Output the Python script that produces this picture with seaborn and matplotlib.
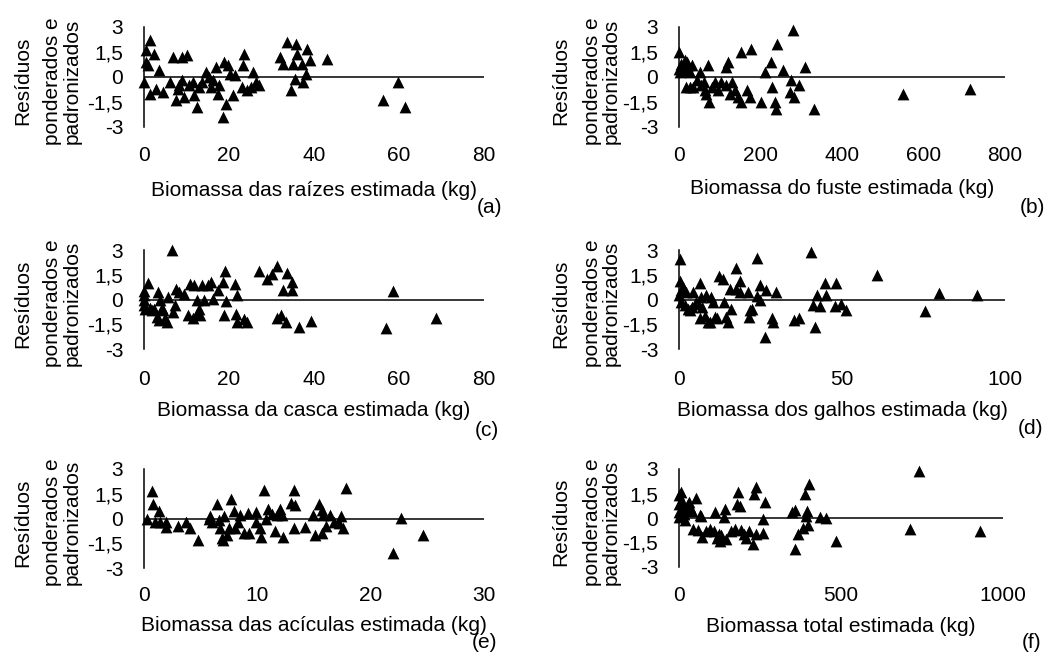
import matplotlib

matplotlib.use("Agg")
import matplotlib.pyplot as plt
import seaborn as sns

Y_TICKS = [-3, -1.5, 0, 1.5, 3]
Y_TICK_LABELS = ["-3", "-1,5", "0", "1,5", "3"]
Y_LABEL_LINES = ["Resíduos", "ponderados e", "padronizados"]

# (a) raízes
raizes_x = [0, 0.4, 0.4, 0.9, 1.3, 1.4, 2.4, 2.8, 3.6, 4.4, 6.1, 6.9, 7.5, 7.9, 8.2,
            8.9, 8.9, 9.3, 10.0, 10.7, 11.5, 11.8, 12.4, 13.0, 13.6, 14.5, 15.4, 15.8,
            16.3, 16.9, 17.3, 17.7, 18.5, 18.8, 19.3, 19.7, 20.2, 21.0, 21.4, 23.1,
            23.4, 23.6, 24.2, 25.1, 25.7, 26.4, 27.1, 32.0, 32.6, 33.7, 34.5, 35.1,
            35.8, 35.9, 35.5, 37.1, 37.5, 38.1, 38.4, 39.1, 43.0, 56.3, 59.8, 61.4]
raizes_y = [-0.3, 1.6, 0.9, 0.7, 2.2, -1.0, 1.4, -0.7, 0.4, -0.9, -0.3, 1.2, -1.4, -0.7,
            -0.5, 1.2, -0.2, -1.2, 1.3, -0.5, -0.3, -1.1, -1.8, -0.6, -0.3, 0.3, 0.0,
            -0.6, -0.2, 0.6, -1.0, -0.5, -2.4, 0.9, -1.6, 0.7, 0.2, -1.1, 0.1, -0.6,
            0.7, 1.4, -0.8, -0.6, 0.3, -0.3, -0.5, 1.2, 0.8, 2.1, -0.8, 0.8, 2.0, 1.4,
            -0.1, 0.8, -0.3, 0.2, 1.7, 1.0, 1.1, -1.4, -0.3, -1.8]

# (b) fuste
fuste_x = [0, 0, 2, 6, 10, 14, 18, 20, 22, 26, 16, 26, 33, 34, 43, 51, 55, 61, 63, 67,
           71, 74, 80, 88, 96, 104, 115, 116, 120, 125, 129, 137, 145, 153, 153, 166,
           174, 176, 202, 211, 225, 227, 235, 239, 241, 256, 272, 276, 279, 282, 295,
           309, 331, 549, 713]
fuste_y = [1.5, 0.5, 0.3, 0.8, 0.6, 1.0, 0.4, 0.9, 0.7, 0.3, -0.6, -0.6, 0.7, -0.6,
           -0.2, 0.3, -0.5, -0.3, -0.8, -1.0, 0.7, -1.5, -0.6, -0.3, -0.8, -0.3, -0.5,
           0.6, 0.9, -1.0, -0.3, -0.8, -1.2, -1.5, 1.5, -0.8, -1.2, 1.7, -1.5, 0.3, 0.9,
           -0.6, -1.5, -1.9, 2.0, 0.4, -0.9, -0.2, 2.8, -1.2, -0.5, 0.6, -1.9, -1.0, -0.7]

# (c) casca
casca_x = [0, 0, 0.1, 0, 0.2, 0.9, 1.3, 1.8, 2.4, 3.0, 3.4, 3.6, 3.8, 4.2, 4.5, 4.9,
           5.3, 5.7, 6.5, 6.9, 7.3, 7.5, 8.3, 9.3, 10.4, 10.8, 11.5, 11.8, 12.4, 12.5,
           13.0, 13.2, 13.6, 14.1, 15.1, 15.7, 16.2, 17.5, 18.5, 18.8, 19.1, 19.4, 21.4,
           21.6, 21.8, 21.8, 23.6, 24.2, 27.0, 29.0, 30.2, 31.4, 31.4, 32.2, 32.6, 33.4,
           33.7, 34.9, 34.9, 36.5, 39.3, 57.0, 58.7, 68.7]
casca_y = [0.25, 0.5, -0.05, -0.35, -0.55, 1.0, -0.5, -0.65, -0.6, -1.05, 0.45, -1.25,
           -0.05, -0.5, -0.65, -1.15, -1.35, 0.15, 3.0, -0.75, -0.35, 0.65, 0.45, 0.35,
           -0.95, 0.95, -1.15, 0.85, -0.85, -0.05, -0.55, -0.95, 0.85, -0.05, 0.85, 1.05,
           0.05, 0.55, 1.05, -0.95, 1.75, -0.1, 0.95, -0.85, 0.25, -1.35, -1.2, -1.35,
           1.75, 1.25, 1.55, 2.05, -1.15, -0.95, 0.55, -1.35, 1.6, 1.05, 0.55, -1.65,
           -1.3, -1.75, 0.5, -1.15]

# (d) galhos
galhos_x = [0.2, 0.2, 0, 0.5, 0.7, 1.2, 1.7, 2.3, 2.8, 3.5, 4.1, 4.3, 5.3, 5.8, 6.3,
            6.3, 6.9, 7.2, 7.9, 8.2, 8.9, 9.4, 9.9, 10.4, 11.0, 11.7, 12.3, 13.5, 13.7,
            14.5, 15.0, 15.6, 16.1, 17.6, 17.6, 18.6, 18.8, 21.2, 21.5, 21.9, 22.5, 24.0,
            24.0, 24.8, 24.8, 26.3, 26.8, 28.4, 28.7, 29.7, 35.2, 36.9, 40.4, 41.1, 41.7,
            42.2, 43.2, 44.7, 45.2, 47.8, 48.3, 49.8, 51.2, 60.6, 75.4, 79.8, 91.3]
galhos_y = [2.45, 1.1, 0.25, 0.55, -0.15, 0.75, -0.35, 0.45, -0.6, -0.65, -0.45, 0.45,
            -0.15, -0.25, 1.0, -1.15, 0.15, -0.45, -1.0, 0.25, -1.35, -1.35, 0.15, -0.15,
            -1.05, -1.15, 1.4, 1.25, -0.15, -1.05, -1.35, 0.65, -0.55, 1.9, 0.65, 1.1,
            0.45, 0.45, -1.05, -0.65, -0.6, 2.5, 0.2, 0.9, -0.05, -2.3, 0.55, -1.15,
            -1.35, 0.45, -1.25, -1.15, 2.9, -0.35, -1.65, 0.25, -0.4, 1.0, 0.25, -0.4,
            1.0, -0.25, -0.65, 1.5, -0.7, 0.4, 0.25]

# (e) acículas
aciculas_x = [0.3, 0.7, 0.8, 1.0, 1.3, 1.4, 1.9, 1.9, 3.0, 3.7, 4.1, 4.8, 5.7, 5.8, 6.0,
              6.4, 6.6, 6.7, 6.9, 7.0, 7.1, 7.3, 7.5, 7.7, 7.9, 8.0, 8.3, 8.5, 8.8, 9.2,
              9.3, 9.9, 9.9, 10.2, 10.3, 10.6, 10.8, 10.9, 11.3, 11.6, 11.7, 12.0, 12.2,
              12.3, 13.0, 13.2, 13.2, 13.3, 14.2, 14.9, 15.1, 15.4, 15.7, 15.7, 15.8,
              16.1, 16.4, 16.8, 17.2, 17.4, 17.6, 17.8, 22.0, 22.7, 24.6]
aciculas_y = [-0.05, 1.65, 0.9, -0.2, 0.45, -0.2, -0.2, -0.5, -0.45, -0.2, -0.6, -1.3,
              -0.05, 0.15, -0.2, 0.9, -0.1, -0.6, -1.2, -1.3, 0.15, -1.0, -0.6, 1.2, 0.45,
              -0.55, -0.2, 0.2, -0.9, 0.35, -0.9, 0.4, -0.2, -0.55, -1.15, 1.75, 0.0, 0.6,
              0.3, -0.75, 0.2, 0.6, 0.2, -1.15, 0.95, -0.6, 1.75, 0.8, -0.5, 0.2, -1.0,
              0.9, 0.5, -0.9, 0.2, -0.45, 0.2, -0.2, -0.25, 0.15, -0.6, 1.85, -2.1, 0.05,
              -1.0]

# (f) total
total_x = [0, 0, 0, 0, 7, 10, 12, 14, 18, 23, 28, 31, 35, 41, 43, 54, 59, 64, 69, 72,
           82, 97, 107, 110, 117, 123, 126, 131, 138, 141, 144, 160, 173, 178, 183, 188,
           190, 200, 208, 216, 229, 231, 237, 239, 260, 260, 265, 348, 358, 358, 368,
           384, 388, 393, 395, 398, 401, 434, 455, 485, 713, 742, 928]
total_y = [1.4, 0.85, 0.35, 0.05, 1.6, 1.05, 0.65, 0.25, -0.15, 0.55, 0.85, 0.95, 0.65,
           0.45, -0.7, 1.2, -0.75, 0.2, 0.15, -1.15, -0.8, -0.7, -0.8, 0.35, -1.25, -1.0,
           -1.4, -1.05, 0.05, 0.55, -1.3, -0.8, -0.7, 0.85, 1.6, 0.75, -0.75, -1.0, -1.25,
           -0.8, -1.6, 1.45, 1.9, -1.0, -0.05, -0.9, 0.95, 0.35, 0.5, -1.9, -0.95, -0.6,
           1.5, 0.15, 0.45, -0.45, 2.1, 0.05, 0.0, -1.4, -0.7, 2.9, -0.8]

PANELS = [
    (raizes_x, raizes_y, "Biomassa das raízes estimada (kg)", 80, [0, 20, 40, 60, 80], "(a)"),
    (fuste_x, fuste_y, "Biomassa do fuste estimada (kg)", 800, [0, 200, 400, 600, 800], "(b)"),
    (casca_x, casca_y, "Biomassa da casca estimada (kg)", 80, [0, 20, 40, 60, 80], "(c)"),
    (galhos_x, galhos_y, "Biomassa dos galhos estimada (kg)", 100, [0, 50, 100], "(d)"),
    (aciculas_x, aciculas_y, "Biomassa das acículas estimada (kg)", 30, [0, 10, 20, 30], "(e)"),
    (total_x, total_y, "Biomassa total estimada (kg)", 1000, [0, 500, 1000], "(f)"),
]

# layout, in pixels
BOXES = [  # left, top, right, bottom
    (144, 27, 484, 127), (679, 27, 1005, 127),
    (144, 250, 484, 349), (679, 250, 1005, 349),
    (144, 469, 484, 568), (679, 469, 1003, 567),
]
TAGS = [  # x, y center, ha
    (477, 208, "left"), (1045, 208, "right"),
    (475, 430, "left"), (1043, 429, "right"),
    (472, 643, "left"), (1041, 643, "right"),
]
XTICK_PAD = [14, 14, 15, 15, 13, 14]
XLABEL_PAD = [11, 10, 9, 9, 8, 8]
YLABEL_OFFSETS = [(-121, -92, -72), (-118, -87, -68)]

W, H = 1046, 655

sns.set_theme(style="white")
plt.rcParams["font.family"] = ["Liberation Sans", "DejaVu Sans"]
plt.rcParams["font.size"] = 15

fig = plt.figure(figsize=(W / 100, H / 100), dpi=100)
fig.patch.set_facecolor("white")

for i, ((xs, ys, xlabel, xmax, xticks, tag), box, tpos) in enumerate(zip(PANELS, BOXES, TAGS)):
    left, top, right, bottom = box
    ax = fig.add_axes([left / W, 1 - bottom / H, (right - left) / W, (bottom - top) / H])
    ax.set_facecolor("none")
    sns.scatterplot(x=xs, y=ys, marker="^", color="black", s=72, linewidth=0,
                    ax=ax, clip_on=False, zorder=3)
    ax.axhline(0, color="black", lw=1.1, zorder=2)
    ax.set_xlim(0, xmax)
    ax.set_ylim(-3, 3)
    for side in ["top", "right", "bottom"]:
        ax.spines[side].set_visible(False)
    ax.spines["left"].set_color("black")
    ax.spines["left"].set_linewidth(1.1)
    ax.set_yticks(Y_TICKS)
    ax.set_yticklabels(Y_TICK_LABELS)
    ax.set_xticks(xticks)
    ax.set_xticklabels([str(t) for t in xticks])
    ax.tick_params(axis="both", length=0, labelsize=15, colors="black")
    ax.tick_params(axis="y", pad=15)
    ax.tick_params(axis="x", pad=XTICK_PAD[i])
    ax.set_xlabel(xlabel, fontsize=15, labelpad=XLABEL_PAD[i], color="black")

    # three-line y label, with the looser gap after the first line as in the original
    yc = 1 - ((top + bottom) / 2 + 4) / H
    for line, dx in zip(Y_LABEL_LINES, YLABEL_OFFSETS[i % 2]):
        fig.text((left + dx) / W, yc, line, rotation=90, ha="center", va="center",
                 fontsize=15, color="black")

    fig.text(tpos[0] / W, 1 - tpos[1] / H, tag, ha=tpos[2], va="center",
             fontsize=15, color="black")

fig.savefig("out.png", dpi=100, facecolor="white")
